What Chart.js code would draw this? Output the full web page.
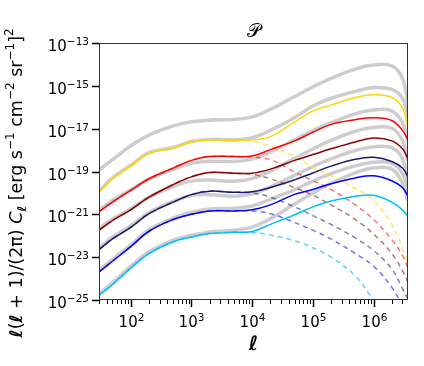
<!DOCTYPE html>
<html>
<head>
<meta charset="utf-8">
<script src="https://cdn.jsdelivr.net/npm/chart.js@4"></script>
<style>
  html, body { margin: 0; padding: 0; background: #fff; }
</style>
</head>
<body>
<canvas id="chart" width="424" height="366"></canvas>
<script>
// multipoles
const ell = [30, 50, 100, 200, 500, 1e3, 2e3, 5e3, 1e4, 2e4, 5e4, 1e5, 2e5, 5e5, 1e6, 2e6, 3e6, 3.7e6];

// log10 of l(l+1)/(2pi) C_l, total per bin (solid)
const yellowTot  = [-19.97, -19.34, -18.75, -18.16, -17.9, -17.62, -17.53, -17.55, -17.52, -17.37, -16.69, -16.17, -15.9, -15.54, -15.42, -15.54, -16.03, -16.94];
const redTot     = [-20.88, -20.43, -19.88, -19.34, -18.84, -18.48, -18.3, -18.3, -18.28, -17.98, -17.57, -17.17, -16.8, -16.58, -16.49, -16.62, -17.08, -17.53];
const darkredTot = [-21.74, -21.29, -20.79, -20.2, -19.61, -19.25, -19.05, -19.08, -19.08, -18.89, -18.48, -18.21, -17.94, -17.62, -17.44, -17.57, -17.94, -18.43];
const navyTot    = [-22.65, -22.15, -21.61, -20.97, -20.43, -20.08, -19.92, -19.97, -19.95, -19.75, -19.39, -19.07, -18.75, -18.43, -18.34, -18.53, -18.84, -19.25];
const blueTot    = [-23.69, -23.19, -22.51, -21.79, -21.24, -21.0, -20.84, -20.84, -20.79, -20.56, -20.07, -19.84, -19.57, -19.3, -19.2, -19.43, -19.75, -20.16];
const cyanTot    = [-24.78, -24.28, -23.51, -22.83, -22.28, -22.06, -21.9, -21.84, -21.8, -21.47, -21.02, -20.65, -20.38, -20.16, -20.11, -20.43, -20.79, -21.11];

// 2-halo term per bin (dashed)
const yellow2h  = [-19.97, -19.34, -18.75, -18.16, -17.9, -17.62, -17.53, -17.55, -17.58, -17.82, -18.3, -18.8, -19.2, -19.79, -20.34, -21.47, -22.6, -23.28];
const red2h     = [-20.88, -20.43, -19.88, -19.34, -18.84, -18.48, -18.3, -18.3, -18.33, -18.45, -19.02, -19.43, -19.84, -20.56, -21.24, -22.19, -22.92, -23.51];
const darkred2h = [-21.74, -21.29, -20.79, -20.2, -19.61, -19.25, -19.05, -19.08, -19.13, -19.34, -19.75, -20.11, -20.56, -21.24, -21.92, -22.83, -23.64, -24.19];
const navy2h    = [-22.65, -22.15, -21.61, -20.97, -20.43, -20.08, -19.92, -19.97, -20.0, -20.2, -20.65, -21.06, -21.47, -22.1, -22.69, -23.55, -24.46, -24.96];
const blue2h    = [-23.69, -23.19, -22.51, -21.79, -21.24, -21.0, -20.84, -20.84, -20.84, -20.97, -21.38, -21.74, -22.15, -22.83, -23.42, -24.41, -25.3, -25.9];
const cyan2h    = [-24.78, -24.28, -23.51, -22.83, -22.28, -22.06, -21.9, -21.84, -21.85, -21.97, -22.24, -22.56, -23.0, -23.87, -25.0, -26.0, -27.0, -27.5];

// other bins (grey)
const grey0 = [-18.93, -18.45, -17.8, -17.3, -16.87, -16.68, -16.6, -16.57, -16.45, -16.1, -15.5, -15.05, -14.65, -14.22, -14.03, -14.07, -14.65, -15.9];
const grey1 = [-19.93, -19.3, -18.71, -18.12, -17.88, -17.6, -17.5, -17.52, -17.42, -17.08, -16.49, -15.94, -15.58, -15.26, -15.08, -15.17, -15.58, -16.49];
const grey2 = [-20.8, -20.35, -19.85, -19.35, -18.9, -18.62, -18.52, -18.53, -18.42, -18.09, -17.52, -17.09, -16.72, -16.31, -16.13, -16.17, -16.72, -17.6];
const grey3 = [-21.66, -21.22, -20.74, -20.2, -19.7, -19.45, -19.4, -19.45, -19.33, -18.98, -18.39, -17.95, -17.55, -17.12, -16.94, -16.98, -17.55, -18.5];
const grey4 = [-22.57, -22.07, -21.53, -20.92, -20.4, -20.12, -20.08, -20.15, -20.04, -19.72, -19.18, -18.77, -18.41, -18.02, -17.85, -17.89, -18.41, -19.54];
const grey5 = [-23.61, -23.11, -22.43, -21.72, -21.18, -20.9, -20.75, -20.72, -20.61, -20.3, -19.85, -19.45, -19.1, -18.74, -18.57, -18.61, -19.1, -19.9];
const grey6 = [-24.7, -24.2, -23.43, -22.75, -22.2, -21.98, -21.82, -21.74, -21.6, -21.2, -20.52, -20.01, -19.55, -19.06, -18.84, -18.89, -19.55, -20.4];

// axis ticks (exponents)
const xDecades = [1, 2, 3, 4, 5, 6];
const xLabelExp = [2, 3, 4, 5, 6];
const yLabelExp = [-25, -23, -21, -19, -17, -15, -13];

const greys = [grey0, grey1, grey2, grey3, grey4, grey5, grey6];
const totals = [yellowTot, redTot, darkredTot, navyTot, blueTot, cyanTot];
const twoHalo = [yellow2h, red2h, darkred2h, navy2h, blue2h, cyan2h];
const colors = ['#ffd700', '#ff0000', '#8b0000', '#191970', '#0000ff', '#00bfff'];
const dashColors = ['rgba(255,215,0,0.65)', 'rgba(255,0,0,0.55)', 'rgba(139,0,0,0.55)',
                    'rgba(25,25,112,0.55)', 'rgba(0,0,255,0.55)', 'rgba(0,191,255,0.65)'];

const toPoints = vals => ell.map((l, i) => ({ x: l, y: Math.pow(10, vals[i]) }));

const datasets = [];
greys.forEach(g => datasets.push({
    data: toPoints(g), borderColor: '#cdcdcd', borderWidth: 3.5, order: 3,
}));
twoHalo.forEach((d, i) => datasets.push({
    data: toPoints(d), borderColor: dashColors[i], borderWidth: 1.5, borderDash: [5, 4], order: 2,
}));
totals.forEach((d, i) => datasets.push({
    data: toPoints(d), borderColor: colors[i], borderWidth: 1.5, order: 1,
}));
datasets.forEach(ds => {
    ds.pointRadius = 0;
    ds.fill = false;
    ds.tension = 0.4;
});

const FONT = '"DejaVu Sans", sans-serif';

// draws 10^exp with a raised exponent
function drawPow(ctx, exp, x, y, align) {
    const expText = String(exp).replace('-', '\u2212');
    ctx.font = `15px ${FONT}`;
    const wb = ctx.measureText('10').width;
    ctx.font = `10.5px ${FONT}`;
    const we = ctx.measureText(expText).width;
    let x0 = x;
    if (align === 'right') x0 = x - wb - we;
    if (align === 'center') x0 = x - (wb + we) / 2;
    ctx.textAlign = 'left';
    ctx.textBaseline = 'alphabetic';
    ctx.font = `15px ${FONT}`;
    ctx.fillText('10', x0, y);
    ctx.font = `10.5px ${FONT}`;
    ctx.fillText(expText, x0 + wb, y - 6);
}

const axesPlugin = {
    id: 'axesPlugin',
    afterDraw(chart) {
        const { ctx, chartArea: a, scales: { x, y } } = chart;
        ctx.save();
        ctx.fillStyle = '#000';
        ctx.strokeStyle = '#333';
        ctx.lineWidth = 1;
        ctx.strokeRect(a.left + 0.5, a.top + 0.5, a.right - a.left - 1, a.bottom - a.top - 1);

        // x ticks
        ctx.strokeStyle = '#000';
        x.ticks.forEach(t => {
            const px = Math.round(x.getPixelForValue(t.value)) + 0.5;
            const lg = Math.log10(t.value);
            const major = Math.abs(lg - Math.round(lg)) < 1e-9;
            ctx.lineWidth = major ? 1.5 : 1;
            ctx.beginPath();
            ctx.moveTo(px, a.bottom);
            ctx.lineTo(px, a.bottom + (major ? 7 : 4));
            ctx.stroke();
            if (major && xLabelExp.includes(Math.round(lg))) {
                drawPow(ctx, Math.round(lg), px, a.bottom + 27, 'center');
            }
        });

        // y ticks
        y.ticks.forEach(t => {
            const py = Math.round(y.getPixelForValue(t.value)) + 0.5;
            const lg = Math.round(Math.log10(t.value));
            ctx.lineWidth = 1.5;
            ctx.beginPath();
            ctx.moveTo(a.left, py);
            ctx.lineTo(a.left - 7, py);
            ctx.stroke();
            drawPow(ctx, lg, a.left - 10, py + 7, 'right');
        });

        // title
        ctx.textAlign = 'center';
        ctx.textBaseline = 'alphabetic';
        ctx.font = `19px "DejaVu Serif", serif`;
        ctx.fillText('\u{1D4AB}', (a.left + a.right) / 2, a.top - 6);

        // x label
        ctx.font = `bold 20px ${FONT}`;
        ctx.fillText('\u2113', (a.left + a.right) / 2, a.bottom + 50);

        // y label, rotated, built from pieces
        const big = `17.5px ${FONT}`;
        const ellFont = `bold 17.5px ${FONT}`;
        const bigIt = `italic 17.5px ${FONT}`;
        const small = `12px ${FONT}`;
        const smallEll = `bold 12px ${FONT}`;
        const parts = [
            { t: '\u2113', f: ellFont, dy: 0 },
            { t: '(', f: big, dy: 0 },
            { t: '\u2113', f: ellFont, dy: 0 },
            { t: ' + 1)/(2\u03c0) ', f: big, dy: 0 },
            { t: 'C', f: bigIt, dy: 0 },
            { t: '\u2113', f: smallEll, dy: 4 },
            { t: ' [erg s', f: big, dy: 0 },
            { t: '\u22121', f: small, dy: -8 },
            { t: ' cm', f: big, dy: 0 },
            { t: '\u22122', f: small, dy: -8 },
            { t: ' sr', f: big, dy: 0 },
            { t: '\u22121', f: small, dy: -8 },
            { t: ']', f: big, dy: 0 },
            { t: '2', f: small, dy: -9 },
        ];
        let total = 0;
        parts.forEach(p => { ctx.font = p.f; p.w = ctx.measureText(p.t).width; total += p.w; });
        ctx.translate(22, 183);
        ctx.rotate(-Math.PI / 2);
        ctx.textAlign = 'left';
        let u = -total / 2;
        parts.forEach(p => {
            ctx.font = p.f;
            ctx.fillText(p.t, u, p.dy);
            u += p.w;
        });
        ctx.restore();
    }
};

new Chart(document.getElementById('chart'), {
    type: 'line',
    data: { datasets },
    options: {
        responsive: false,
        animation: false,
        devicePixelRatio: 1,
        layout: { padding: { left: 91, top: 43, right: 16, bottom: 58 } },
        plugins: { legend: { display: false }, tooltip: { enabled: false } },
        scales: {
            x: {
                type: 'logarithmic',
                min: 30,
                max: 3.7e6,
                ticks: { display: false },
                grid: { display: false },
                border: { display: false },
                afterBuildTicks: scale => {
                    const ticks = [];
                    xDecades.forEach(d => {
                        for (let m = 1; m <= 9; m++) {
                            const v = m * Math.pow(10, d);
                            if (v >= 30 && v <= 3.7e6) ticks.push({ value: v });
                        }
                    });
                    scale.ticks = ticks;
                },
            },
            y: {
                type: 'logarithmic',
                min: 1e-25,
                max: 1e-13,
                ticks: { display: false },
                grid: { display: false },
                border: { display: false },
                afterBuildTicks: scale => {
                    scale.ticks = yLabelExp.map(e => ({ value: Math.pow(10, e) }));
                },
            },
        },
    },
    plugins: [axesPlugin],
});
</script>
</body>
</html>
